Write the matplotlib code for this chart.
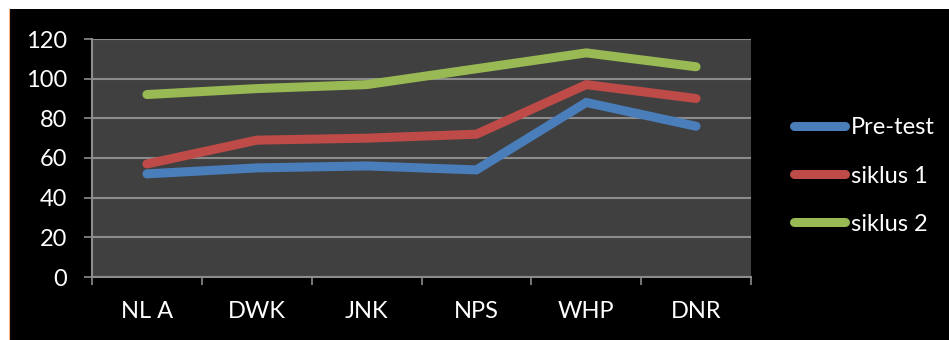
import matplotlib.pyplot as plt
from matplotlib.patches import Rectangle
from matplotlib.lines import Line2D

categories = ["NL A", "DWK", "JNK", "NPS", "WHP", "DNR"]
pre_test = [52, 55, 56, 54, 88, 76]
siklus_1 = [57, 69, 70, 72, 97, 90]
siklus_2 = [92, 95, 97, 105, 113, 106]
series_names = ["Pre-test", "siklus 1", "siklus 2"]
colors = ["#4A7EBB", "#BE4B48", "#98B954"]
y_ticks = [0, 20, 40, 60, 80, 100, 120]

plt.rcParams['font.family'] = ['Lato', 'DejaVu Sans']

W, H = 949, 340
fig = plt.figure(figsize=(W / 100, H / 100), dpi=100, facecolor="white")

# black chart frame, white margin on top/left
fig.patches.append(Rectangle((9 / W, 0), 1 - 9 / W, 1 - 9 / H, transform=fig.transFigure,
                             facecolor="black", edgecolor="none", zorder=-10))
fig.lines.append(Line2D([8.5 / W, 8.5 / W], [0, 1 - 9 / H], transform=fig.transFigure,
                        color="#F4B183", lw=0.8, zorder=-9))

ax = fig.add_axes([92 / W, 1 - 277 / H, (751 - 92) / W, (277 - 39) / H])
ax.set_facecolor("#404040")

x = list(range(len(categories)))
for vals, name, c in zip([pre_test, siklus_1, siklus_2], series_names, colors):
    ax.plot(x, vals, color=c, lw=6.5, solid_capstyle="round", solid_joinstyle="miter", label=name)

ax.set_xlim(-0.5, len(categories) - 0.5)
ax.set_ylim(0, 120)
ax.set_yticks(y_ticks)
ax.grid(axis="y", color="#8C8C8C", lw=1.5)
ax.set_axisbelow(True)

ax.set_xticks([i - 0.5 for i in range(len(categories) + 1)])
ax.set_xticklabels([])
ax.set_xticks(x, minor=True)
ax.set_xticklabels(categories, minor=True)
ax.tick_params(axis="x", which="major", length=6, width=1.2, color="#8C8C8C", direction="out")
ax.tick_params(axis="x", which="minor", length=0, pad=17, labelcolor="white", labelsize=17)
ax.tick_params(axis="y", length=6, width=1.2, color="#8C8C8C", pad=12,
               labelcolor="white", labelsize=17)

for side in ["top", "right"]:
    ax.spines[side].set_visible(False)
for side in ["left", "bottom"]:
    ax.spines[side].set_color("#8C8C8C")
    ax.spines[side].set_linewidth(1.5)

leg = fig.legend(loc="center left", bbox_to_anchor=(794 / W, 1 - 176 / H), frameon=False,
                 fontsize=17, handlelength=2.15, handletextpad=0.25, labelspacing=1.15,
                 borderpad=0, borderaxespad=0, labelcolor="white")

fig.savefig("out.png", dpi=100, facecolor=fig.get_facecolor())
